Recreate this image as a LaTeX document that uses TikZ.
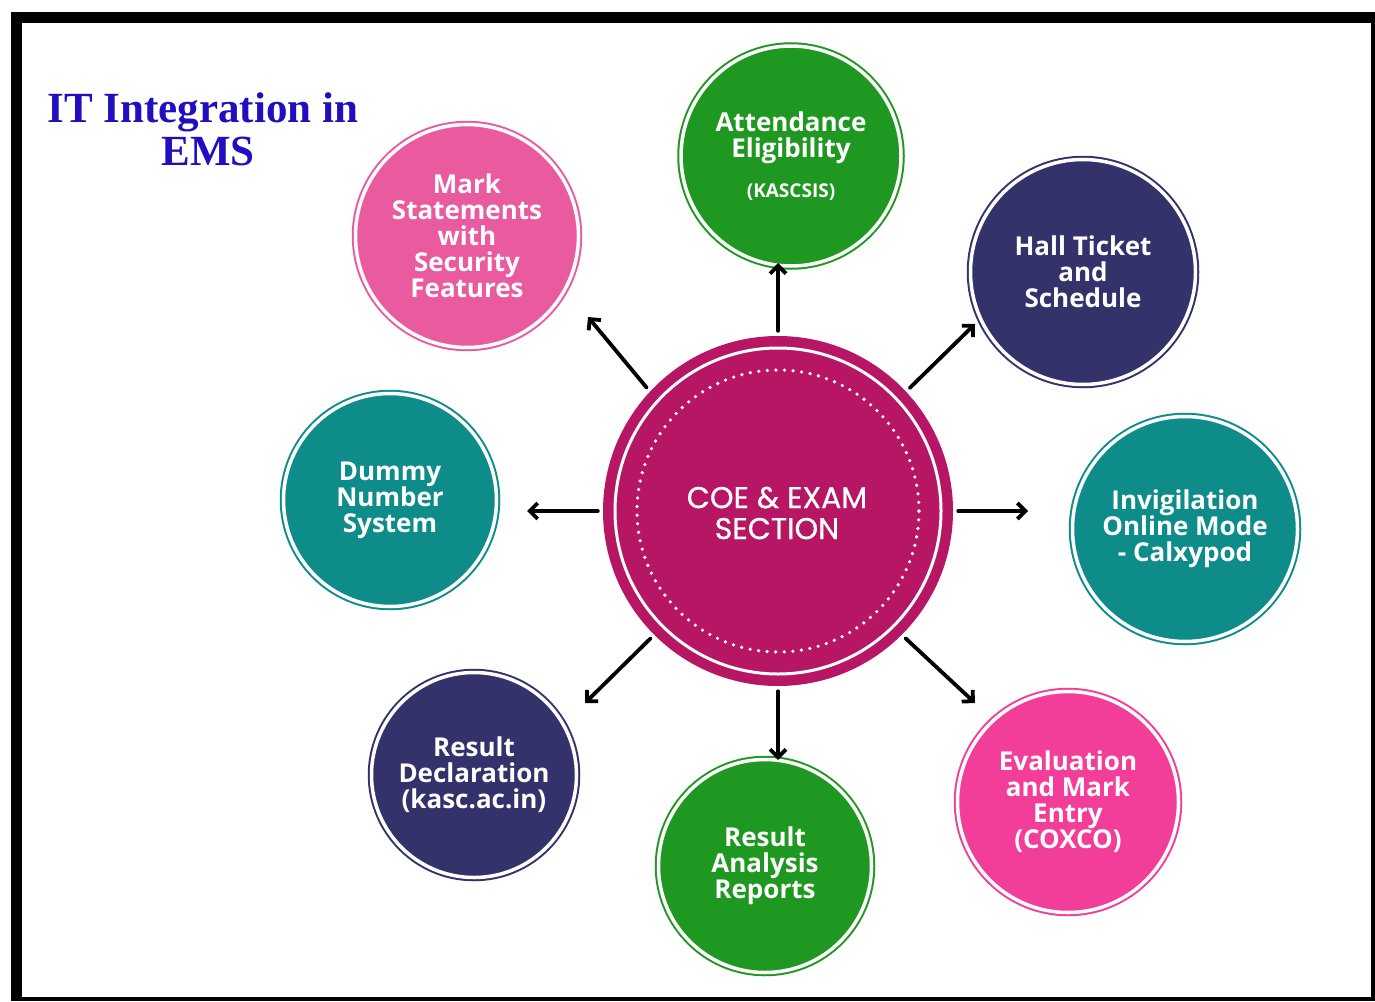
\documentclass[tikz,border=0pt]{standalone}
\usepackage{fontspec}
\setmainfont{Liberation Serif}
\newfontfamily\satf{Open Sans}
\newfontfamily\coef{Poppins}[FakeBold=0.7]
\usetikzlibrary{arrows.meta}
\definecolor{magc}{RGB}{182,22,100}
\definecolor{grn}{RGB}{30,152,32}
\definecolor{navy}{RGB}{52,50,106}
\definecolor{teal2}{RGB}{14,140,137}
\definecolor{pinkA}{RGB}{234,90,158}
\definecolor{pinkB}{RGB}{242,62,152}
\definecolor{ttl}{RGB}{32,14,192}
\begin{document}
\begin{tikzpicture}[x=1pt,y=-1pt,
  sat/.style={circle, fill=#1, draw=#1, double=white, double distance=3.5pt,
    line width=2pt, text=white, align=center, inner sep=0pt,
    font=\satf\bfseries\fontsize{26}{26}\selectfont},
  arr/.style={line width=3.8pt, line cap=round,
    -{Straight Barb[length=8pt,width=16pt]}, shorten <=5pt}]
\useasboundingbox (0,0) rectangle (1375,1001);
\fill[white] (0,0) rectangle (1375,1001);
\fill[black] (11,12) rectangle (1375,1001);
\fill[white] (22,23) rectangle (1371,997);

% title
\node[text=ttl, font=\bfseries\fontsize{43}{43}\selectfont, align=center, inner sep=0pt]
  (title) at (203,129) {IT Integration in\\\hspace*{10pt}EMS};

% centre
\node[circle, fill=magc, minimum size=350pt, inner sep=0pt] (c) at (778,511) {};
\draw[white, line width=3pt] (c.center) circle[radius=163pt];
\draw[white, line width=3.6pt, line cap=round, dash pattern=on 0pt off 8.6pt]
  (c.center) circle[radius=141pt];
\node[text=white, font=\coef\fontsize{30}{31}\selectfont, align=center, inner sep=0pt]
  (ct) at (777,513) {COE \& EXAM\\SECTION};

% satellites
\node[sat=grn, minimum size=220pt] (att) at (791,156)
  {Attendance\\Eligibility\\[14pt]\fontsize{19}{26}\selectfont (KASCSIS)};
\node[sat=navy, minimum size=225pt] (hall) at (1083,272)
  {Hall Ticket\\and\\Schedule};
\node[sat=teal2, minimum size=225pt] (inv) at (1185,529)
  {Invigilation\\Online Mode\\- Calxypod};
\node[sat=pinkB, minimum size=221pt] (eval) at (1068,802)
  {Evaluation\\and Mark\\Entry\\(COXCO)};
\node[sat=grn, minimum size=213pt] (ana) at (765,866)
  {Result\\Analysis\\Reports};
\node[sat=navy, minimum size=205pt] (decl) at (474,775)
  {Result\\Declaration\\(kasc.ac.in)};
\node[sat=teal2, minimum size=213pt] (dummy) at (390,500)
  {Dummy\\Number\\System};
\node[sat=pinkA, minimum size=223pt] (mark) at (467,236)
  {Mark\\Statements\\with\\Security\\Features};

% arrow ends
\coordinate (e1) at (778,263);
\coordinate (e2) at (975,324);
\coordinate (e3) at (1028,511);
\coordinate (e4) at (975,703);
\coordinate (e5) at (778,760);
\coordinate (e6) at (585,703);
\coordinate (e7) at (527,511);
\coordinate (e8) at (588,317);

\draw[arr] (c.90) -- (e1);
\draw[arr] (c.43.6) -- (e2);
\draw[arr] (c.0) -- (e3);
\draw[arr] (c.-45) -- (e4);
\draw[arr] (c.-90) -- (e5);
\draw[arr] (c.-135.5) -- (e6);
\draw[arr] (c.180) -- (e7);
\draw[arr] (c.137.7) -- (e8);
\end{tikzpicture}
\end{document}
